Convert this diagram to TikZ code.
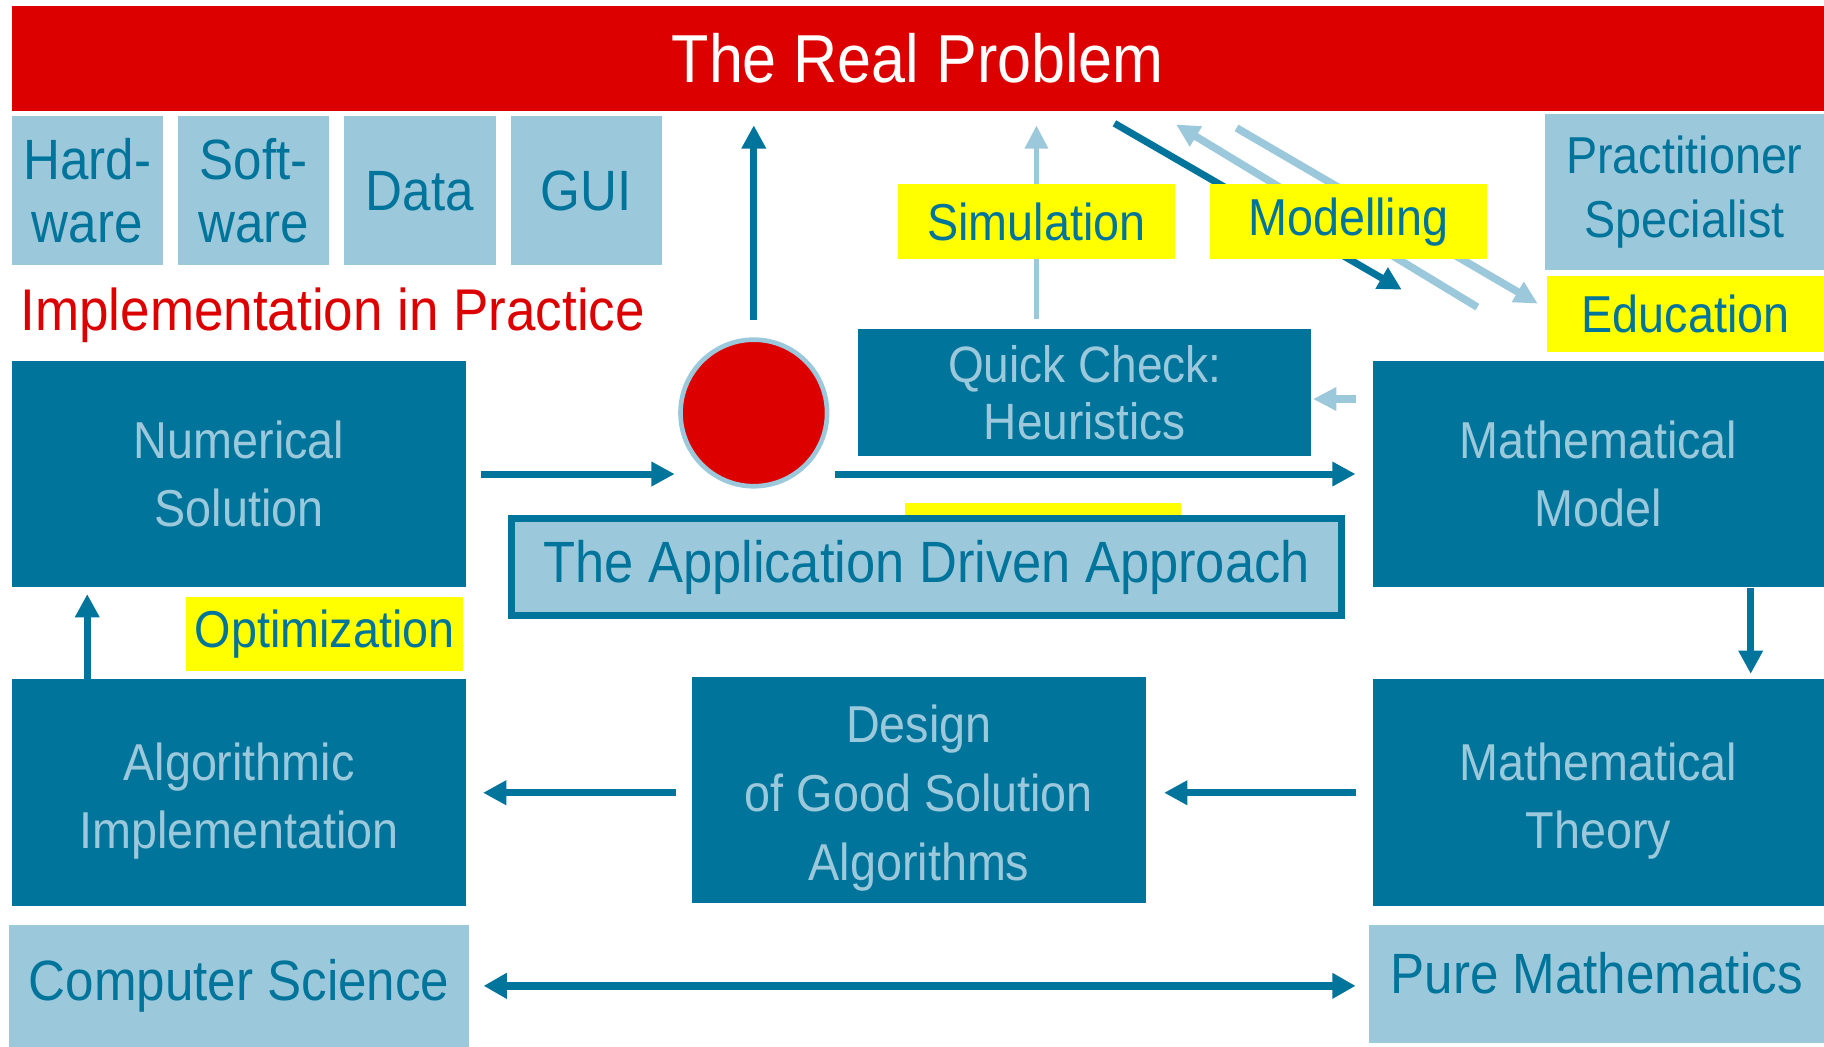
\documentclass[tikz,border=0pt]{standalone}
\usepackage{fontspec}
\setmainfont{Liberation Sans}[FakeStretch=0.9]
\usetikzlibrary{arrows.meta,backgrounds}
\definecolor{dblue}{RGB}{0,116,154}
\definecolor{lblue}{RGB}{155,201,219}
\definecolor{pred}{RGB}{221,0,0}
\definecolor{pyellow}{RGB}{255,255,0}
\newcommand{\lowtxt}{\rule{0pt}{13.3pt}}
\newcommand{\hightxt}{\rule[-5.7pt]{0pt}{5.7pt}}

\begin{document}
\begin{tikzpicture}[x=0.1mm,y=-0.1mm,
  dbox/.style={fill=dblue,text=lblue,align=center,inner sep=0pt,minimum width=39mm,minimum height=19.5mm,font=\fontsize{12.7}{16.8}\selectfont},
  lbox/.style={fill=lblue,text=dblue,align=center,inner sep=0pt,font=\fontsize{13.9}{15.4}\selectfont},
  ybox/.style={fill=pyellow,text=dblue,inner sep=0pt,minimum width=23.8mm,minimum height=6.5mm,font=\fontsize{12.7}{15}\selectfont},
  arr/.style={draw=dblue,line width=0.6mm,-{Triangle[length=2mm,width=2mm]}},
  larr/.style={draw=lblue,line width=0.65mm,-{Triangle[length=2mm,width=1.9mm]}}]
\useasboundingbox (0,0) rectangle (1568,900);

\node[fill=pred,text=white,inner sep=0pt,minimum width=155.8mm,minimum height=9mm,font=\fontsize{16.6}{20}\selectfont] (banner) at (789,50) {The Real Problem};

\foreach \x/\txt/\name in {75/{Hard-\\ware}/hw,218/{Soft-\\ware}/sw,361/Data/data,504/GUI/gui}
  \node[lbox,minimum width=13mm,minimum height=12.8mm] (\name) at (\x,164) {\txt};
\node[text=pred,anchor=base west,inner sep=0pt,font=\fontsize{14.4}{16}\selectfont] (impl) at (17,284) {Implementation in Practice};

\node[lbox,minimum width=24mm,minimum height=13.4mm,font=\fontsize{12.7}{15.7}\selectfont] (pract) at (1448,165) {Practitioner\\Specialist};
\node[ybox] (edu) at (1449,270) {Education};
\node[ybox] (model) at (1159,190.5) {Modelling};
\node[ybox] (simu) at (891,190.5) {Simulation};

\node[circle,fill=pred,draw=lblue,line width=0.4mm,minimum size=12.6mm,inner sep=0pt] (circ) at (648,355) {};
\node[dbox,minimum width=38.9mm,minimum height=10.9mm,font=\fontsize{12.5}{14}\selectfont] (quick) at (932.5,337.5) {Quick Check:\\Heuristics};

\node[dbox] (numsol) at (205.5,407.5) {Numerical\\Solution};
\node[dbox,minimum width=38.8mm] (mmodel) at (1374,407.5) {Mathematical\\Model};
\node[lbox,draw=dblue,line width=0.6mm,minimum width=71.3mm,minimum height=8.3mm,font=\fontsize{14.25}{17}\selectfont] (appr) at (796.5,487.5) {The Application Driven Approach};
\node[ybox,minimum height=6.4mm] (optim) at (279,545) {Optimization};

\node[dbox] (algimp) at (205.5,681.5) {\lowtxt Algorithmic\\Implementation};
\node[dbox,minimum height=19.4mm] (design) at (790,679) {\lowtxt Design\\of Good Solution\\Algorithms};
\node[dbox,minimum width=38.8mm] (mtheory) at (1374,681.5) {\lowtxt Mathematical\\Theory};

\node[lbox,minimum width=39.5mm,minimum height=10.5mm] (cs) at (205.5,847.5) {Computer Science};
\node[lbox,minimum width=39.1mm,minimum height=10.2mm] (pm) at (1372.5,846) {Pure Mathematics\hightxt};

\coordinate (mdl1) at (958,106);
\coordinate (mdl2) at (1205,249);
\coordinate (mdl3) at (1270,264);
\coordinate (mdl4) at (1011,107);
\coordinate (mdl5) at (1063,110);
\coordinate (mdl6) at (1322,261);

\begin{scope}[on background layer]
  \fill[pyellow] (778,432) rectangle (1015,446);
  \draw[larr,line width=0.5mm] ([yshift=0.8mm]simu.center |- quick.north) -- ([yshift=-1.2mm]simu.center |- banner.south);
  \draw[arr] (mdl1) -- (mdl2);
  \draw[larr] (mdl3) -- (mdl4);
  \draw[larr] (mdl5) -- (mdl6);
\end{scope}

\draw[arr] ([yshift=1.5mm]circ.north) -- ([yshift=-1.2mm]circ.north |- banner.south);
\draw[arr] ([xshift=1.2mm]numsol.east) -- ([xshift=-0.3mm]numsol.east -| circ.west);
\draw[arr] ([xshift=0.5mm]numsol.east -| circ.east) -- ([xshift=-1.4mm]mmodel.west);
\draw[larr] ([xshift=-1.4mm,yshift=-0.55mm]mmodel.west |- quick.east) -- ([xshift=0.1mm,yshift=-0.55mm]quick.east);
\draw[arr] ([xshift=13.1mm]mmodel.south) -- ([xshift=13.1mm,yshift=0.4mm]mtheory.north);
\draw[arr] ([xshift=-13.05mm]algimp.north) -- ([xshift=-13.05mm,yshift=-0.5mm]numsol.south);
\draw[arr] ([xshift=-1.3mm]design.west |- algimp.east) -- ([xshift=1.4mm]algimp.east);
\draw[arr] ([xshift=-1.4mm]mtheory.west) -- ([xshift=1.5mm]design.east |- mtheory.west);
\draw[arr,line width=0.7mm,{Triangle[length=2mm,width=2.1mm]}-{Triangle[length=2mm,width=2.1mm]}] ([xshift=1.2mm]cs.east) -- ([xshift=-1.1mm]pm.west |- cs.east);
\end{tikzpicture}
\end{document}
